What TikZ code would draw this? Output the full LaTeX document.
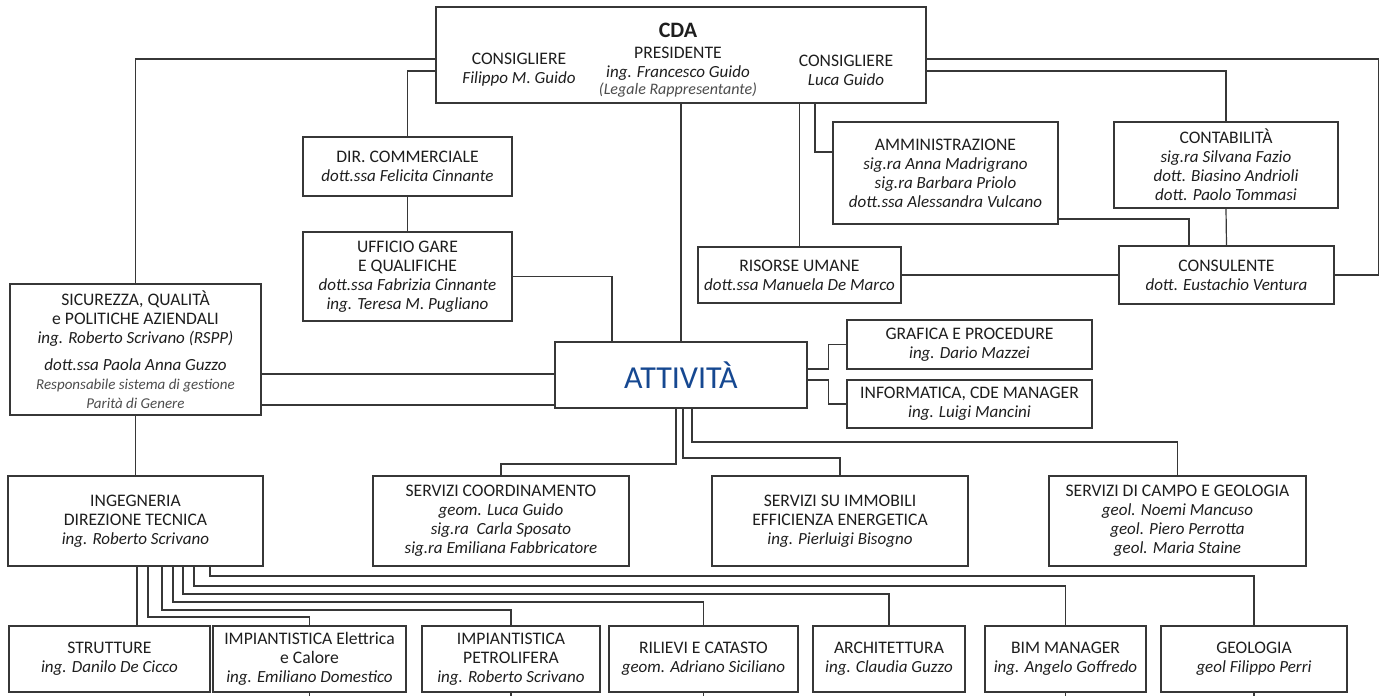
\documentclass[tikz,border=0pt]{standalone}
\usepackage{fontspec}
\setmainfont{Carlito}

\definecolor{linegray}{RGB}{55,55,55}
\definecolor{txtgray}{RGB}{30,30,30}
\definecolor{attblue}{RGB}{22,72,145}

\tikzset{every picture/.style={line width=1.2pt}}
\tikzset{
  box/.style={draw=linegray, line width=1.3pt, fill=white, inner sep=0pt, align=center, text=txtgray, font=\fontsize{17.6}{19}\selectfont},
  txt/.style={inner sep=0pt, align=center, text=txtgray, font=\fontsize{17.6}{19}\selectfont},
  link/.style={draw=linegray, line width=1.2pt},
}
\newcommand{\who}[1]{{\fontsize{17}{19}\selectfont\itshape #1}}
\newcommand{\lgt}[1]{{\fontsize{15}{16}\selectfont\itshape\color{black!70}#1}}

\begin{document}
\begin{tikzpicture}[x=1pt,y=1pt,yscale=-1,xscale=1]
\useasboundingbox (0,0) rectangle (1385,696);

%Shape: Rectangle [CDA]
\draw (681,55) node [box,minimum width=490pt,minimum height=96pt] (cda) {};
% Text Node
\draw (678,60) node [txt] (pres) {{\fontsize{22}{22}\selectfont\bfseries CDA}\\[2pt]PRESIDENTE\\\who{ing. Francesco Guido}\\[-2pt]{\fontsize{16}{16}\selectfont\itshape\color{black!70}(Legale Rappresentante)}};
% Text Node
\draw (519,70) node [txt] (cons1) {CONSIGLIERE\\\who{Filippo M. Guido}};
% Text Node
\draw (846,70) node [txt] (cons2) {CONSIGLIERE\\\who{Luca Guido}};

%Shape: Rectangle [commerciale]
\draw (407.5,166.5) node [box,minimum width=209pt,minimum height=59pt] (dircomm) {DIR. COMMERCIALE\\\who{dott.ssa Felicita Cinnante}};
%Shape: Rectangle [gare]
\draw (407.5,276.5) node [box,minimum width=209pt,minimum height=89pt] (gare) {UFFICIO GARE\\E QUALIFICHE\\\who{dott.ssa Fabrizia Cinnante}\\\who{ing. Teresa M. Pugliano}};
%Shape: Rectangle [sicurezza]
\draw (135.5,349.5) node [box,minimum width=251pt,minimum height=131pt] (sicur) {SICUREZZA, QUALITÀ\\e POLITICHE AZIENDALI\\\who{ing. Roberto Scrivano (RSPP)}\\[8pt]\who{dott.ssa Paola Anna Guzzo}\\\lgt{Responsabile sistema di gestione}\\\lgt{Parità di Genere}};
%Shape: Rectangle [attivita]
\draw (681,375) node [box,minimum width=252pt,minimum height=66pt,text=attblue,font=\fontsize{32}{34}\selectfont] (attiv) {ATTIVITÀ};

%Shape: Rectangle [amministrazione]
\draw (945.5,173) node [box,minimum width=225pt,minimum height=102pt] (ammin) {AMMINISTRAZIONE\\\who{sig.ra Anna Madrigrano}\\\who{sig.ra Barbara Priolo}\\\who{dott.ssa Alessandra Vulcano}};
%Shape: Rectangle [contabilita]
\draw (1226,165) node [box,minimum width=224pt,minimum height=86pt] (contab) {CONTABILITÀ\\\who{sig.ra Silvana Fazio}\\\who{dott. Biasino Andrioli}\\\who{dott. Paolo Tommasi}};
%Shape: Rectangle [risorse]
\draw (799.5,275) node [box,minimum width=203pt,minimum height=56pt] (risorse) {RISORSE UMANE\\\who{dott.ssa Manuela De Marco}};
%Shape: Rectangle [consulente]
\draw (1226.5,275) node [box,minimum width=215pt,minimum height=58pt] (consul) {CONSULENTE\\\who{dott. Eustachio Ventura}};
%Shape: Rectangle [grafica]
\draw (969.5,344.5) node [box,minimum width=245pt,minimum height=49pt] (grafica) {GRAFICA E PROCEDURE\\\who{ing. Dario Mazzei}};
%Shape: Rectangle [informatica]
\draw (969.5,404) node [box,minimum width=245pt,minimum height=48pt] (inform) {INFORMATICA, CDE MANAGER\\\who{ing. Luigi Mancini}};

%Shape: Rectangle [ingegneria]
\draw (135.5,521) node [box,minimum width=255pt,minimum height=90pt] (ingegn) {INGEGNERIA\\DIREZIONE TECNICA\\\who{ing. Roberto Scrivano}};
%Shape: Rectangle [servizi]
\draw (501,521) node [box,minimum width=256pt,minimum height=90pt] (servcoord) {SERVIZI COORDINAMENTO\\\who{geom. Luca Guido}\\\who{sig.ra~ Carla Sposato}\\\who{sig.ra Emiliana Fabbricatore}};
\draw (840,521) node [box,minimum width=256pt,minimum height=90pt] (servimm) {SERVIZI SU IMMOBILI\\EFFICIENZA ENERGETICA\\\who{ing. Pierluigi Bisogno}};
\draw (1177.5,521) node [box,minimum width=257pt,minimum height=90pt] (servcampo) {SERVIZI DI CAMPO E GEOLOGIA\\\who{geol. Noemi Mancuso}\\\who{geol. Piero Perrotta}\\\who{geol. Maria Staine}};

%Shape: Rectangle [bottom row]
\draw (109.5,659) node [box,minimum width=201pt,minimum height=66pt] (strutt) {STRUTTURE\\\who{ing. Danilo De Cicco}};
\draw (309.5,659) node [box,minimum width=193pt,minimum height=66pt] (impel) {IMPIANTISTICA Elettrica\\e Calore\\\who{ing. Emiliano Domestico}};
\draw (511,659) node [box,minimum width=178pt,minimum height=66pt] (imppet) {IMPIANTISTICA\\PETROLIFERA\\\who{ing. Roberto Scrivano}};
\draw (703.5,659) node [box,minimum width=189pt,minimum height=66pt] (rilievi) {RILIEVI E CATASTO\\\who{geom. Adriano Siciliano}};
\draw (889,659) node [box,minimum width=152pt,minimum height=66pt] (archit) {ARCHITETTURA\\\who{ing. Claudia Guzzo}};
\draw (1065.5,659) node [box,minimum width=161pt,minimum height=66pt] (bim) {BIM MANAGER\\\who{ing. Angelo Goffredo}};
\draw (1254,659) node [box,minimum width=186pt,minimum height=66pt] (geolog) {GEOLOGIA\\\who{geol Filippo Perri}};

%Straight Lines [from CDA]
\draw [link] (cda.west |- 0,59) -| (sicur.north) ;
\draw [link] (cda.west |- 0,71) -| (dircomm.north) ;
\draw [link] (dircomm.south) -- (gare.north) ;
\draw [link] (gare.east) -| ([xshift=-69pt]attiv.north) ;
\draw [link] (cda.south) -- (attiv.north) ;
\draw [link] (risorse.north |- cda.south) -- (risorse.north) ;
\draw [link] ([xshift=134pt]cda.south) |- (ammin.west |- 0,152) ;
\draw [link] (cda.east |- 0,59) -| ([xshift=44pt]consul.east) -- (consul.east) ;
\draw [link] (cda.east |- 0,71) -| (contab.north) ;
\draw [link] (contab.south) -- (consul.north) ;
\draw [link] (ammin.east |- 0,219) -| ([xshift=-37.5pt]consul.north) ;
\draw [link] (risorse.east) -- (consul.west) ;

%Straight Lines [around ATTIVITA]
\draw [link] (sicur.east |- 0,374) -- (attiv.west |- 0,374) ;
\draw [link] (sicur.east |- 0,405) -- (attiv.west |- 0,405) ;
\draw [link] (attiv.east |- 0,369) -| ([xshift=-18pt]grafica.west) -- (grafica.west) ;
\draw [link] (attiv.east |- 0,380) -| ([xshift=-18pt]inform.west) -- (inform.west) ;
\draw [link] ([xshift=-5pt]attiv.south) |- (servcoord.north |- 0,464) -- (servcoord.north) ;
\draw [link] ([xshift=2pt]attiv.south) |- (servimm.north |- 0,458) -- (servimm.north) ;
\draw [link] ([xshift=11pt]attiv.south) |- (servcampo.north |- 0,442) -- (servcampo.north) ;

%Straight Lines [ingegneria]
\draw [link] (sicur.south) -- (ingegn.north) ;
\draw [link] ([xshift=1.5pt]ingegn.south) -- ([xshift=1.5pt]ingegn.south |- strutt.north) ;
\draw [link] ([xshift=12.5pt]ingegn.south) |- (impel.north |- 0,617) -- (impel.north) ;
\draw [link] ([xshift=26.5pt]ingegn.south) |- (imppet.north |- 0,610) -- (imppet.north) ;
\draw [link] ([xshift=37.5pt]ingegn.south) |- (rilievi.north |- 0,602) -- (rilievi.north) ;
\draw [link] ([xshift=47.5pt]ingegn.south) |- (archit.north |- 0,594) -- (archit.north) ;
\draw [link] ([xshift=58.5pt]ingegn.south) |- (bim.north |- 0,586) -- (bim.north) ;
\draw [link] ([xshift=74.5pt]ingegn.south) |- (geolog.north |- 0,576) -- (geolog.north) ;

%Straight Lines [cut at bottom]
\draw [link] (impel.south) -- ++(0,6) ;
\draw [link] (imppet.south) -- ++(0,6) ;
\draw [link] (rilievi.south) -- ++(0,6) ;
\draw [link] (bim.south) -- ++(0,6) ;
\draw [link] (geolog.south) -- ++(0,6) ;

\end{tikzpicture}
\end{document}
